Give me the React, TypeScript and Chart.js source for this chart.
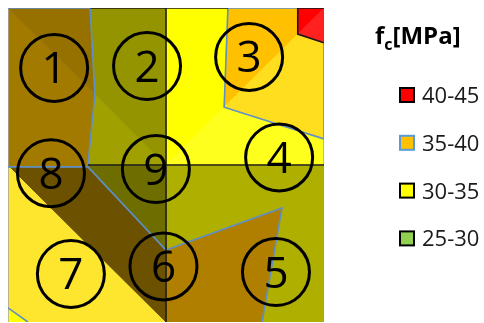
import React, { useEffect, useRef } from "react";
import { Chart, registerables } from "chart.js";

Chart.register(...registerables);

// Plot coordinates: x 0..100 (left → right), y 0..100 (bottom → top)
// Contour regions (fc classes), listed back to front
const blYellow = [[0, 50], [0, 0], [50, 0]];
const blCorner = [[0, 0], [0, 4.5], [6.3, 0]];
const blOliveDark = [[0, 50], [50, 50], [50, 0]];
const blBrownDark = [[0.6, 49.4], [25.3, 49.4], [50, 22.9], [50, 0]];
const brOlive = [[50, 50], [100, 50], [100, 0], [50, 0]];
const brBrown = [[50, 22.9], [86.7, 36.3], [80.4, 0], [50, 0]];
const tlBrownLow = [[0, 100], [27.5, 72.5], [25.3, 50], [25.3, 49.4], [0, 49.4]];
const tlBrownHigh = [[0, 100], [26, 100], [27.5, 72.5]];
const tlOliveLow = [[27.5, 72.5], [50, 50], [25.3, 50]];
const tlOliveHigh = [[26, 100], [50, 100], [50, 50], [27.5, 72.5]];
const trYellowHigh = [[50, 50], [50, 100], [100, 100]];
const trYellowLow = [[50, 50], [100, 100], [100, 50]];
const trOrangeHigh = [[69.6, 100], [100, 100], [68.4, 68.4]];
const trOrangeLow = [[100, 100], [100, 58.3], [68.4, 68.4]];
const trRedHigh = [[91.7, 100], [100, 100], [91.7, 91.7]];
const trRedLow = [[100, 100], [100, 88.9], [91.7, 91.7]];

const regionShapes = [
  blYellow, blCorner, blOliveDark, blBrownDark, brOlive, brBrown,
  tlBrownLow, tlBrownHigh, tlOliveLow, tlOliveHigh,
  trYellowHigh, trYellowLow, trOrangeHigh, trOrangeLow, trRedHigh, trRedLow,
];
const regionColors = [
  "#FFE62E", "#FFFF00", "#6E6E00", "#6C5100", "#AFAF00", "#B07F00",
  "#A37A00", "#977100", "#A0A000", "#949400",
  "#FFFF00", "#FFFF1E", "#FFC000", "#FFDE20", "#FF0000", "#FF2020",
];

// Contour boundary lines
const blueLines = [
  [[0, 100], [26, 100]],
  [[26, 100], [27.5, 72.5], [25.3, 50]],
  [[0, 49.4], [25.3, 49.4], [50, 22.9]],
  [[69.6, 100], [68.4, 68.4], [100, 58.3]],
  [[50, 22.9], [86.7, 36.3], [80.4, 0]],
  [[0, 4.5], [6.3, 0]],
  [[100, 58.3], [100, 88.9]],
  [[69.6, 100], [91.7, 100]],
];
const blackLines = [
  [[50, 0], [50, 100]],
  [[25.3, 50], [100, 50]],
  [[26, 100], [69.6, 100]],
  [[91.7, 100], [91.7, 91.7], [100, 88.9]],
  [[91.7, 100], [100, 100]],
];
const greyLines = [
  [[0, 0], [0, 100]],
  [[100, 50], [100, 58.3]],
];

// Numbered measuring points
const markerLabels = ["1", "2", "3", "4", "5", "6", "7", "8", "9"];
const markerX = [14.6, 44.0, 76.3, 85.8, 84.8, 49.2, 19.9, 13.6, 46.8];
const markerY = [80.9, 81.5, 84.4, 52.4, 15.9, 17.7, 15.3, 47.4, 48.7];

// Legend
const legendTitleMain = "f";
const legendTitleSub = "c";
const legendTitleUnit = "[MPa]";
const legendLabels = ["40-45", "35-40", "30-35", "25-30"];
const legendColors = ["#FF0000", "#FFC000", "#FFFF00", "#92D050"];
const legendBorders = ["#000000", "#5B9BD5", "#000000", "#000000"];

const toPts = (a: number[][]) => a.map(([x, y]) => ({ x, y }));

export default function App() {
  const ref = useRef<HTMLCanvasElement>(null);

  useEffect(() => {
    const canvas = ref.current;
    if (!canvas) return;

    const datasets: any[] = [];
    let ord = 1000;
    regionShapes.forEach((s, i) => {
      const pts = toPts([...s, s[0]]);
      datasets.push({
        data: pts,
        showLine: true,
        fill: "shape",
        backgroundColor: regionColors[i],
        borderColor: regionColors[i],
        borderWidth: 0.8,
        pointRadius: 0,
        tension: 0,
        order: ord--,
      });
    });
    const addLines = (arr: number[][][], color: string, w: number) => {
      arr.forEach((l) => {
        datasets.push({
          data: toPts(l),
          showLine: true,
          fill: false,
          borderColor: color,
          borderWidth: w,
          pointRadius: 0,
          tension: 0,
          order: ord--,
        });
      });
    };
    addLines(greyLines, "#A6A6A6", 1.5);
    addLines(blueLines, "#5E8FC8", 1.6);
    addLines(blackLines, "#1A1A1A", 1.6);

    const circleIndex = datasets.length;
    datasets.push({
      data: markerX.map((x, i) => ({ x, y: markerY[i] })),
      showLine: false,
      pointRadius: 33.5,
      pointBorderWidth: 3,
      pointBackgroundColor: "rgba(0,0,0,0)",
      pointBorderColor: "#000000",
      order: 1,
      clip: false,
    });

    const labelPlugin = {
      id: "markerLabels",
      afterDatasetsDraw(chart: any) {
        const ctx = chart.ctx;
        const meta = chart.getDatasetMeta(circleIndex);
        ctx.save();
        ctx.fillStyle = "#000000";
        ctx.font = "44px 'Open Sans'";
        ctx.textAlign = "center";
        ctx.textBaseline = "alphabetic";
        meta.data.forEach((el: any, i: number) => {
          ctx.fillText(markerLabels[i], el.x, el.y + 15.5);
        });
        ctx.restore();
      },
    };

    const legendPlugin = {
      id: "fcLegend",
      afterDraw(chart: any) {
        const ctx = chart.ctx;
        ctx.save();
        ctx.fillStyle = "#000000";
        ctx.textBaseline = "alphabetic";
        ctx.textAlign = "left";
        let x = 375;
        ctx.font = "bold 24px 'Open Sans'";
        ctx.fillText(legendTitleMain, x, 44);
        x += ctx.measureText(legendTitleMain).width;
        ctx.font = "bold 16px 'Open Sans'";
        ctx.fillText(legendTitleSub, x, 50);
        x += ctx.measureText(legendTitleSub).width;
        ctx.font = "bold 24px 'Open Sans'";
        ctx.fillText(legendTitleUnit, x, 44);

        const cy0 = 95;
        const step = 47.8;
        legendLabels.forEach((lab, i) => {
          const cy = cy0 + i * step;
          ctx.fillStyle = legendColors[i];
          ctx.fillRect(400, cy - 7, 14, 14);
          ctx.strokeStyle = legendBorders[i];
          ctx.lineWidth = 2;
          ctx.strokeRect(400, cy - 7, 14, 14);
          ctx.fillStyle = "#1A1A1A";
          ctx.font = "22px 'Open Sans'";
          ctx.fillText(lab, 422, cy + 8);
        });
        ctx.restore();
      },
    };

    const chart = new Chart(canvas, {
      type: "scatter",
      data: { datasets },
      options: {
        animation: false,
        responsive: false,
        devicePixelRatio: 1,
        events: [],
        layout: { autoPadding: false, padding: { left: 8, top: 8, right: 160, bottom: 1 } },
        scales: {
          x: { type: "linear", min: 0, max: 100, display: false },
          y: { type: "linear", min: 0, max: 100, display: false },
        },
        plugins: {
          legend: { display: false },
          tooltip: { enabled: false },
        },
      } as any,
      plugins: [labelPlugin, legendPlugin],
    });

    return () => chart.destroy();
  }, []);

  return (
    <div style={{ position: "fixed", left: 0, top: 0, width: 484, height: 323, background: "#ffffff" }}>
      <canvas ref={ref} width={484} height={323} style={{ display: "block" }} />
    </div>
  );
}
